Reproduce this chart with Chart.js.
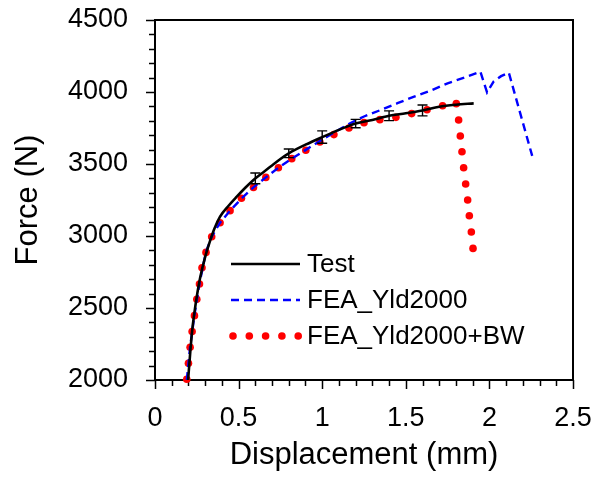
<!DOCTYPE html>
<html>
<head>
<meta charset="utf-8">
<script src="https://cdn.jsdelivr.net/npm/chart.js@4.4.1/dist/chart.umd.min.js"></script>
<style>
  html, body { margin: 0; padding: 0; background: #fff; }
  #wrap { width: 595px; height: 477px; }
</style>
</head>
<body>
<div id="wrap"><canvas id="chart-force" width="595" height="477"></canvas></div>
<script>
/* ── data: force vs displacement ─────────────────────────────────────────── */
const testX = [0.198, 0.21, 0.222, 0.236, 0.25, 0.27, 0.299, 0.325, 0.355, 0.389, 0.44, 0.489, 0.54, 0.589, 0.65, 0.70, 0.75, 0.80, 0.90, 1.00, 1.10, 1.20, 1.30, 1.40, 1.50, 1.60, 1.70, 1.80, 1.906];
const testY = [2000, 2180, 2340, 2470, 2580, 2710, 2850, 2950, 3050, 3134, 3210, 3273, 3335, 3389, 3445, 3490, 3535, 3574, 3634, 3687, 3737, 3781, 3806, 3835, 3852, 3872, 3898, 3912, 3921];

// test scatter (mean ± deviation)
const errX = [0.6, 0.8, 1.0, 1.2, 1.4, 1.6];
const errY = [3400, 3574, 3687, 3781, 3835, 3872];
const errD = [37, 30, 43, 29, 34, 38];

const yldX = [0.19, 0.21, 0.236, 0.266, 0.305, 0.339, 0.389, 0.449, 0.515, 0.589, 0.663, 0.738, 0.818, 0.902, 0.986, 1.07, 1.17, 1.25, 1.35, 1.45, 1.55, 1.65, 1.75, 1.85, 1.946, 1.986, 2.026, 2.07, 2.116, 2.256];
const yldY = [2000, 2230, 2450, 2670, 2890, 2995, 3092, 3176, 3257, 3338, 3407, 3474, 3537, 3598, 3660, 3718, 3785, 3830, 3875, 3922, 3968, 4010, 4060, 4100, 4141, 3998, 4074, 4110, 4135, 3556];

const bwX = [0.190, 0.200, 0.210, 0.222, 0.236, 0.250, 0.266, 0.281, 0.305, 0.339, 0.389, 0.449, 0.517, 0.589, 0.663, 0.738, 0.818, 0.902, 0.986, 1.070, 1.160, 1.250, 1.345, 1.441, 1.535, 1.627, 1.720, 1.802, 1.816, 1.826, 1.836, 1.846, 1.858, 1.870, 1.880, 1.892, 1.902];
const bwY = [2005, 2116, 2227, 2336, 2447, 2560, 2667, 2780, 2886, 2995, 3092, 3176, 3262, 3337, 3407, 3474, 3537, 3595, 3653, 3704, 3750, 3787, 3808, 3824, 3850, 3877, 3905, 3919, 3806, 3694, 3585, 3474, 3361, 3250, 3141, 3028, 2914];

const seriesNames = ["Test", "FEA_Yld2000", "FEA_Yld2000+BW"];

const FONT = "'Liberation Sans', Arial, Helvetica, sans-serif";
const pts = (xs, ys) => xs.map((x, i) => ({ x, y: ys[i] }));

/* ── frame + major/minor tick marks ──────────────────────────────────────── */
const frameTicks = {
  id: "frameTicks",
  beforeDatasetsDraw(chart) {
    const { ctx, chartArea: a, scales } = chart;
    ctx.save();
    ctx.strokeStyle = "#000";
    ctx.lineWidth = 1.5;
    ctx.beginPath();
    scales.y.ticks.forEach((t) => {
      const py = Math.round(scales.y.getPixelForValue(t.value)) + 0.5;
      const len = Math.round(t.value) % 500 === 0 ? 9 : 6;
      ctx.moveTo(a.left - len, py);
      ctx.lineTo(a.left, py);
    });
    scales.x.ticks.forEach((t) => {
      const px = Math.round(scales.x.getPixelForValue(t.value)) + 0.5;
      const len = Math.round(t.value * 10) % 5 === 0 ? 9 : 6;
      ctx.moveTo(px, a.bottom);
      ctx.lineTo(px, a.bottom + len);
    });
    ctx.stroke();
    ctx.lineWidth = 2;
    ctx.strokeRect(a.left, a.top, a.right - a.left, a.bottom - a.top);
    ctx.restore();
  },
};

/* ── error bars on the test curve ────────────────────────────────────────── */
const errorBars = {
  id: "errorBars",
  afterDatasetsDraw(chart) {
    const { ctx, scales } = chart;
    ctx.save();
    ctx.strokeStyle = "#000";
    ctx.lineWidth = 1.4;
    ctx.beginPath();
    errX.forEach((x, i) => {
      const px = scales.x.getPixelForValue(x);
      const top = scales.y.getPixelForValue(errY[i] + errD[i]);
      const bot = scales.y.getPixelForValue(errY[i] - errD[i]);
      ctx.moveTo(px, top); ctx.lineTo(px, bot);
      ctx.moveTo(px - 5, top); ctx.lineTo(px + 5, top);
      ctx.moveTo(px - 5, bot); ctx.lineTo(px + 5, bot);
    });
    ctx.stroke();
    ctx.restore();
  },
};

/* ── legend inside the plot ──────────────────────────────────────────────── */
const insideLegend = {
  id: "insideLegend",
  afterDraw(chart) {
    const { ctx } = chart;
    const x0 = 231, x1 = 300, rows = [264, 300, 336];
    ctx.save();
    ctx.font = `26px ${FONT}`;
    ctx.textBaseline = "middle";
    ctx.fillStyle = "#000";
    chart.data.datasets.forEach((ds, i) => {
      const y = rows[i];
      if (ds.showLine === false) {
        ctx.fillStyle = ds.pointBackgroundColor;
        for (let k = 0; k < 5; k++) {
          ctx.beginPath();
          ctx.arc(x0 + 2 + k * 16.3, y, ds.pointRadius, 0, Math.PI * 2);
          ctx.fill();
        }
      } else {
        ctx.strokeStyle = ds.borderColor;
        ctx.lineWidth = ds.borderWidth;
        ctx.setLineDash(ds.borderDash || []);
        ctx.beginPath();
        ctx.moveTo(x0, y);
        ctx.lineTo(x1, y);
        ctx.stroke();
        ctx.setLineDash([]);
      }
      ctx.fillStyle = "#000";
      ctx.fillText(ds.label, 307, y + 1);
    });
    ctx.restore();
  },
};

new Chart(document.getElementById("chart-force"), {
  type: "scatter",
  data: {
    datasets: [
      {
        label: seriesNames[0],
        data: pts(testX, testY),
        showLine: true,
        borderColor: "#000",
        borderWidth: 2.6,
        cubicInterpolationMode: "monotone",
        pointRadius: 0,
      },
      {
        label: seriesNames[1],
        data: pts(yldX, yldY),
        showLine: true,
        borderColor: "#0000ff",
        borderWidth: 2.4,
        borderDash: [8, 5],
        tension: 0,
        pointRadius: 0,
      },
      {
        label: seriesNames[2],
        data: pts(bwX, bwY),
        showLine: false,
        pointRadius: 3.8,
        pointBackgroundColor: "#ff0000",
        pointBorderWidth: 0,
        clip: 6,
      },
    ],
  },
  options: {
    responsive: false,
    animation: false,
    devicePixelRatio: 1,
    layout: { padding: { top: 20, right: 22, bottom: 0, left: 0 } },
    plugins: { legend: { display: false }, tooltip: { enabled: false } },
    scales: {
      x: {
        type: "linear",
        min: 0,
        max: 2.5,
        afterFit: (s) => {
          s.height = 97;
          s.paddingLeft = 0;
          s.paddingRight = 0;
        },
        border: { display: false },
        grid: { drawOnChartArea: false, tickColor: "transparent", tickLength: 9 },
        ticks: {
          stepSize: 0.1,
          autoSkip: false,
          maxRotation: 0,
          padding: 13,
          color: "#000",
          font: { family: FONT, size: 27 },
          callback: (v) => {
            const r = Math.round(v * 10);
            return r % 5 === 0 ? String(r / 10) : "";
          },
        },
        title: {
          display: true,
          text: "Displacement (mm)",
          color: "#000",
          font: { family: FONT, size: 31 },
          padding: { top: 0, bottom: 3 },
        },
      },
      y: {
        type: "linear",
        min: 2000,
        max: 4500,
        afterFit: (s) => {
          s.width = 155;
          s.paddingTop = 0;
          s.paddingBottom = 0;
        },
        border: { display: false },
        grid: { drawOnChartArea: false, tickColor: "transparent", tickLength: 9 },
        ticks: {
          stepSize: 100,
          autoSkip: false,
          padding: 18,
          color: "#000",
          font: { family: FONT, size: 27 },
          callback: (v) => (Math.round(v) % 500 === 0 ? String(v) : ""),
        },
        title: {
          display: true,
          text: "Force (N)",
          color: "#000",
          font: { family: FONT, size: 31 },
          padding: { top: 10, bottom: 0 },
        },
      },
    },
  },
  plugins: [frameTicks, errorBars, insideLegend],
});
</script>
</body>
</html>
